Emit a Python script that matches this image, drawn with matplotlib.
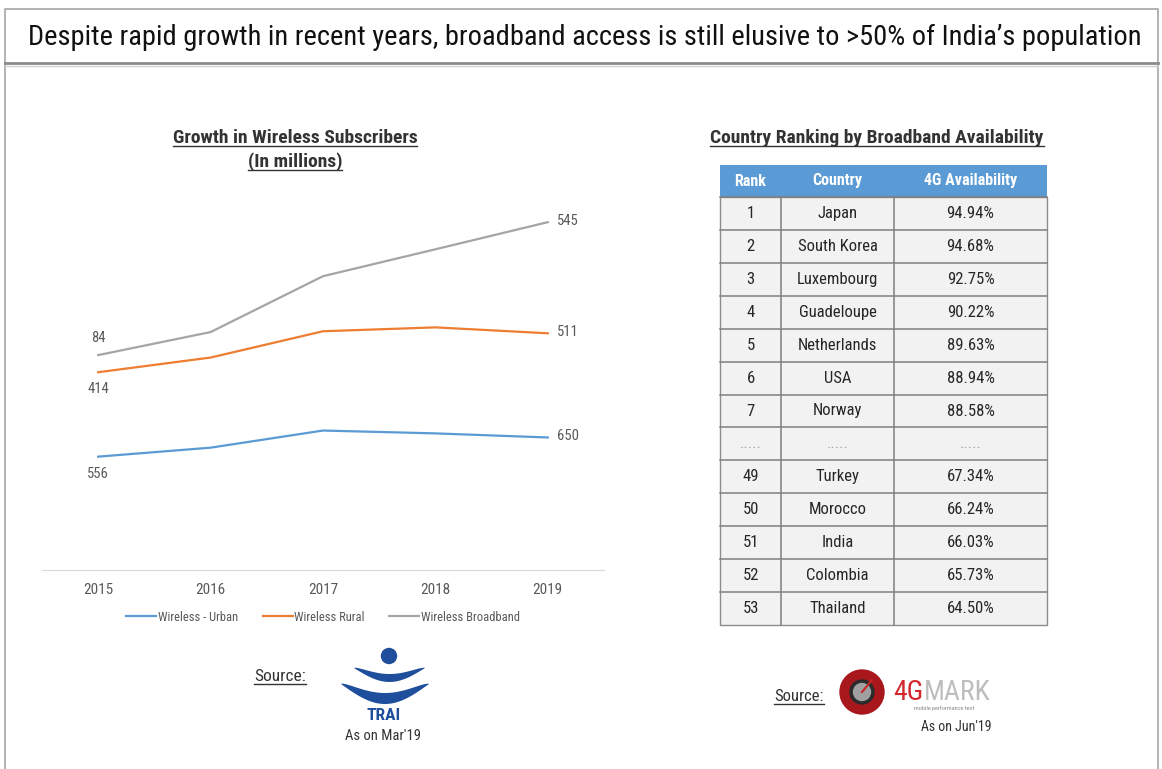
import numpy as np
import matplotlib.pyplot as plt
from matplotlib import font_manager
from matplotlib.patches import Rectangle, Circle, Polygon

# Wireless subscribers in India (millions), as of March each year
years = ['2015', '2016', '2017', '2018', '2019']
urban = [556, 600, 684, 670, 650]
rural = [414, 442, 487, 520, 511]
broadband = [84, 125, 270, 383, 545]
series_names = ['Wireless - Urban', 'Wireless Rural', 'Wireless Broadband']
series_colors = ['#5B9BD5', '#ED7D31', '#A5A5A5']

# 4G availability ranking
table_header = ['Rank', 'Country', '4G Availability']
ranks = ['1', '2', '3', '4', '5', '6', '7', '.....', '49', '50', '51', '52', '53']
countries = ['Japan', 'South Korea', 'Luxembourg', 'Guadeloupe', 'Netherlands', 'USA',
             'Norway', '.....', 'Turkey', 'Morocco', 'India', 'Colombia', 'Thailand']
availability = ['94.94%', '94.68%', '92.75%', '90.22%', '89.63%', '88.94%', '88.58%',
                '.....', '67.34%', '66.24%', '66.03%', '65.73%', '64.50%']

headline = ("Despite rapid growth in recent years, broadband access is still "
            "elusive to >50% of India\u2019s population")

installed = {f.name for f in font_manager.fontManager.ttflist}
narrow = next((f for f in ['Liberation Sans Narrow', 'Roboto Condensed', 'Arial Narrow']
               if f in installed), 'Liberation Sans')
plt.rcParams['font.family'] = [narrow, 'DejaVu Sans']

W, H = 1162, 769
fig = plt.figure(figsize=(W / 100, H / 100), dpi=100)

# page layer in pixel coordinates
bg = fig.add_axes([0, 0, 1, 1])
bg.set_xlim(0, W)
bg.set_ylim(H, 0)
bg.axis('off')
renderer = fig.canvas.get_renderer()


def text_span(t):
    bb = t.get_window_extent(renderer).transformed(bg.transData.inverted())
    return bb.x0, bb.x1


def underlined(x, y, s, size, color='#333333', weight='normal'):
    t = bg.text(x, y, s, ha='center', va='baseline', fontsize=size, color=color,
                fontweight=weight)
    x0, x1 = text_span(t)
    bg.plot([x0, x1], [y + 3, y + 3], color=color, lw=1)


# frame and header band
bg.plot([5, 5, W - 4, W - 4], [H, 9, 9, H], color='#A6A6A6', lw=1.2)
bg.plot([5, W - 4], [63, 63], color='#8C8C8C', lw=2)
bg.plot([5, W - 4], [66, 66], color='#D0D0D0', lw=1)
bg.text(585, 37, headline, ha='center', va='center', fontsize=20.5, color='#111111')

# line chart (stacked lines)
ax = fig.add_axes([42 / W, (H - 570) / H, 562 / W, 367 / H])
x = np.arange(len(years))
levels = np.cumsum([urban, rural, broadband], axis=0)
series = [urban, rural, broadband]
for lvl, vals, c, name in zip(levels, series, series_colors, series_names):
    ax.plot(x, lvl, color=c, lw=1.6, label=name)
    dy = 17 if vals is broadband else -17
    ax.annotate(str(vals[0]), (x[0], lvl[0]), xytext=(0, dy), textcoords='offset pixels',
                ha='center', va='center', fontsize=10.5, color='#595959')
    ax.annotate(str(vals[-1]), (x[-1], lvl[-1]), xytext=(20, 1), textcoords='offset pixels',
                ha='center', va='center', fontsize=10.5, color='#595959')
ax.set_xlim(-0.5, len(years) - 0.5)
ax.set_ylim(0, 1800)
ax.set_xticks(x)
ax.set_xticklabels(years)
ax.set_yticks([])
for side in ['top', 'right', 'left']:
    ax.spines[side].set_visible(False)
ax.spines['bottom'].set_color('#D9D9D9')
ax.tick_params(axis='x', length=0, labelsize=11, colors='#595959', pad=9)
ax.patch.set_alpha(0)
ax.legend(loc='upper center', bbox_to_anchor=(0.5, -0.08), ncol=3, frameon=False,
          fontsize=9, labelcolor='#595959', handlelength=2.4, handletextpad=0.1,
          columnspacing=2.0)

underlined(295, 143, 'Growth in Wireless Subscribers', 14, weight='bold')
underlined(295, 167, '(In millions)', 14, weight='bold')

# ranking table
underlined(877, 143, 'Country Ranking by Broadband Availability', 14, weight='bold')
col_edges = [720, 781, 894, 1047]
head_top, head_bot = 165, 197
row_h = (625 - head_bot) / len(ranks)
bg.add_patch(Rectangle((col_edges[0], head_top), col_edges[-1] - col_edges[0],
                       head_bot - head_top, facecolor='#5B9BD5', edgecolor='none'))
for j, label in enumerate(table_header):
    cx = (col_edges[j] + col_edges[j + 1]) / 2
    bg.text(cx, (head_top + head_bot) / 2, label, ha='center', va='center',
            fontsize=11.5, color='white', fontweight='bold')
bg.add_patch(Rectangle((col_edges[0], head_bot), col_edges[-1] - col_edges[0],
                       row_h * len(ranks), facecolor='#F2F2F2', edgecolor='#8C8C8C', lw=1))
for i, row in enumerate(zip(ranks, countries, availability)):
    y0 = head_bot + i * row_h
    bg.plot([col_edges[0], col_edges[-1]], [y0, y0], color='#7F7F7F', lw=1.1)
    for j, cell in enumerate(row):
        cx = (col_edges[j] + col_edges[j + 1]) / 2
        filler = cell == '.....'
        bg.text(cx, y0 + row_h / 2, cell, ha='center', va='center', fontsize=12,
                color='#A6A6A6' if filler else '#262626')
for xe in col_edges[1:-1]:
    bg.plot([xe, xe], [head_bot, head_bot + row_h * len(ranks)], color='#7F7F7F', lw=1.1)

# TRAI source mark
trai_blue = '#1F4E9C'


def swoosh(x0, x1, y_tip, sag, thick):
    t = np.linspace(0, 1, 80)
    xs = x0 + (x1 - x0) * t
    lower = y_tip + sag * np.sin(np.pi * t)
    upper = lower - thick * np.sin(np.pi * t) ** 0.7
    pts = np.column_stack([np.r_[xs, xs[::-1]], np.r_[lower, upper[::-1]]])
    bg.add_patch(Polygon(pts, closed=True, color=trai_blue, lw=0))


bg.add_patch(Circle((389, 656), 7.5, color=trai_blue))
swoosh(354, 425, 668, 14, 8)
swoosh(341, 429, 684, 20, 11)
underlined(280, 681, 'Source:', 12.5)
bg.text(384, 716, 'TRAI', ha='center', va='center', fontsize=12.5, color=trai_blue,
        fontweight='bold')
bg.text(383, 736, "As on Mar'19", ha='center', va='center', fontsize=10.5, color='#333333')

# 4GMARK source mark
underlined(799, 701, 'Source:', 12)
bg.add_patch(Circle((862, 692), 22, color='#A8171C'))
bg.add_patch(Circle((862, 692), 12, color='#2B2B2B'))
bg.add_patch(Circle((862, 692), 8.5, color='#A0A0A0'))
bg.plot([862, 872], [692, 680], color='#C62828', lw=1.5)
t4g = bg.text(893, 692, '4G', ha='left', va='center', fontsize=20, color='#D3272E')
bg.text(text_span(t4g)[1] + 1, 692, 'MARK', ha='left', va='center', fontsize=20,
        color='#BDBDBD')
bg.text(944, 708, 'mobile performance test', ha='center', va='center', fontsize=4.5,
        color='#8A8A8A')
bg.text(956, 727, "As on Jun'19", ha='center', va='center', fontsize=10, color='#333333')

fig.savefig('out.png', dpi=100)
